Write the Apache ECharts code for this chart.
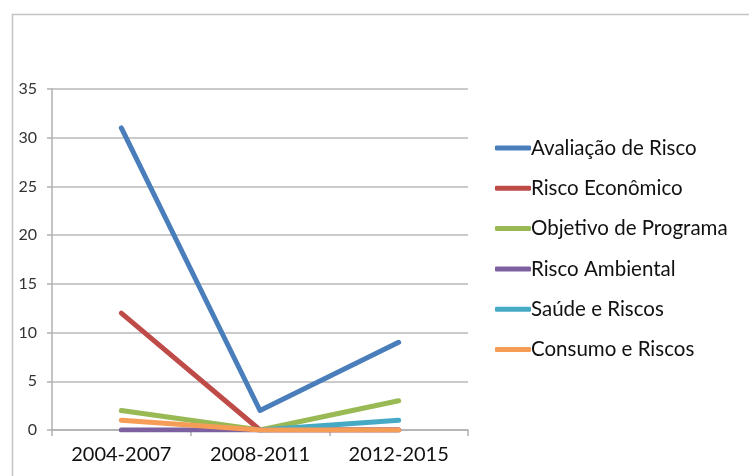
<!DOCTYPE html>
<html>
<head>
<meta charset="utf-8">
<script src="https://cdn.jsdelivr.net/npm/echarts@6/dist/echarts.min.js"></script>
<style>
  html, body { margin: 0; padding: 0; background: #fff; }
  #chart { width: 749px; height: 476px; }
</style>
</head>
<body>
<div id="chart"></div>
<script>
// Periods on the horizontal axis
const periods = ['2004-2007', '2008-2011', '2012-2015'];

// Counts per theme and period
const avaliacaoRisco = [31, 2, 9];
const riscoEconomico = [12, 0, 0];
const objetivoPrograma = [2, 0, 3];
const riscoAmbiental = [0, 0, 0];
const saudeRiscos = [null, 0, 1];
const consumoRiscos = [1, 0, 0];

const seriesNames = [
  'Avaliação de Risco',
  'Risco Econômico',
  'Objetivo de Programa',
  'Risco Ambiental',
  'Saúde e Riscos',
  'Consumo e Riscos'
];
const seriesValues = [avaliacaoRisco, riscoEconomico, objetivoPrograma, riscoAmbiental, saudeRiscos, consumoRiscos];
const colors = ['#4A7EBB', '#BE4B48', '#98B954', '#7D60A0', '#46AAC5', '#F59D56'];

const chart = echarts.init(document.getElementById('chart'), null, { renderer: 'canvas' });

chart.setOption({
  animation: false,
  backgroundColor: '#ffffff',
  color: colors,
  graphic: [{
    type: 'rect',
    left: 10, top: 12,
    shape: { width: 800, height: 500 },
    style: { fill: 'none', stroke: '#c4c4c4', lineWidth: 1.5 },
    silent: true,
    z: -1
  }],
  grid: { left: 52, top: 89, width: 416, height: 341, containLabel: false },
  legend: {
    orient: 'vertical',
    left: 495,
    top: 136,
    padding: 0,
    itemGap: 16.3,
    itemWidth: 36,
    itemHeight: 5,
    icon: 'roundRect',
    textStyle: { fontFamily: 'Lato', fontSize: 20.5, lineHeight: 24, color: '#111', padding: [0, 0, 0, -5] },
    data: seriesNames
  },
  xAxis: {
    type: 'category',
    data: periods,
    boundaryGap: true,
    axisLine: { lineStyle: { color: '#b0b0b0', width: 1.5 } },
    axisTick: { show: true, length: 6, lineStyle: { color: '#b0b0b0', width: 1.5 } },
    axisLabel: { fontFamily: 'Lato', fontSize: 20, color: '#111', margin: 15 }
  },
  yAxis: {
    type: 'value',
    min: 0, max: 35, interval: 5,
    axisLine: { show: true, lineStyle: { color: '#b0b0b0', width: 1.5 } },
    axisTick: { show: true, length: 5, lineStyle: { color: '#b0b0b0', width: 1.5 } },
    splitLine: { lineStyle: { color: '#b8b8b8', width: 1.5 } },
    axisLabel: { fontFamily: 'Lato', fontSize: 16, color: '#333', margin: 15 }
  },
  series: seriesNames.map((name, i) => ({
    name,
    type: 'line',
    data: seriesValues[i],
    showSymbol: false,
    symbol: 'none',
    connectNulls: false,
    lineStyle: { width: 5, cap: 'round', join: 'round', color: colors[i] },
    itemStyle: { color: colors[i] }
  }))
});
</script>
</body>
</html>
